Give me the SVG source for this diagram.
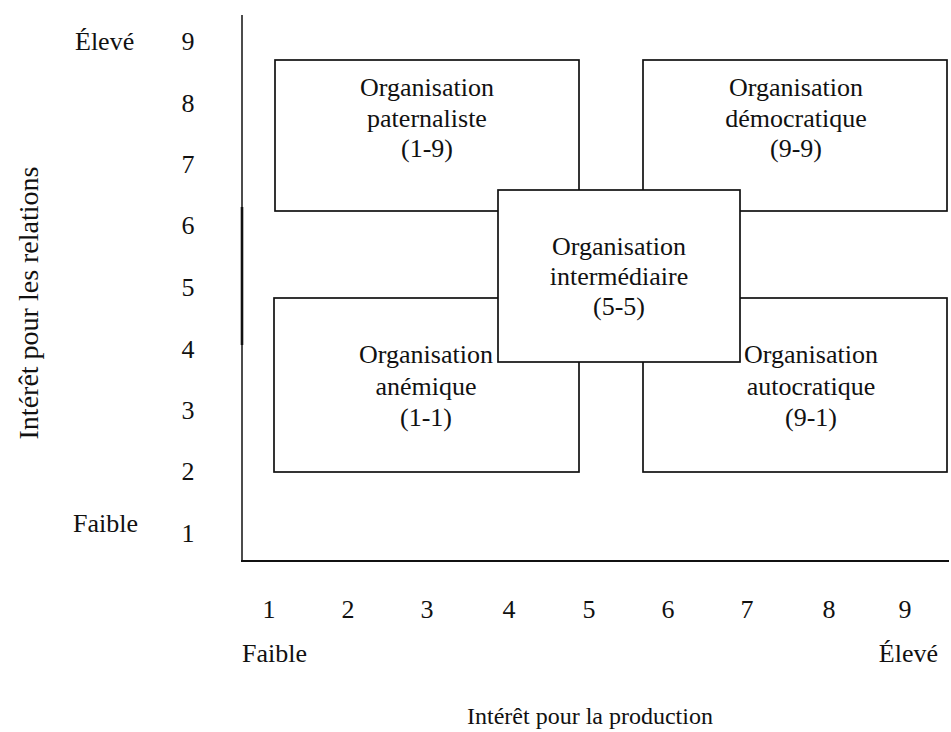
<svg xmlns="http://www.w3.org/2000/svg" width="951" height="732" viewBox="0 0 951 732">
<style>
text{font-family:"Liberation Serif","Times New Roman",serif;font-size:26px;fill:#111}
.c{text-anchor:middle}
.box rect{fill:#fff;stroke:#111;stroke-width:1.7}
.ax{stroke:#111;fill:none}
</style>
<rect width="951" height="732" fill="#fff"/>
<g id="axes">
<line class="ax" x1="242" y1="15" x2="242" y2="562" stroke-width="1.5"/>
<line class="ax" x1="242" y1="207" x2="242" y2="345" stroke-width="2.6"/>
<line class="ax" x1="241" y1="561" x2="949" y2="561" stroke-width="2"/>
</g>
<g id="y-labels">
<text x="75" y="50">Élevé</text>
<text x="73" y="532">Faible</text>
<text class="c" x="188" y="50">9</text>
<text class="c" x="188" y="112">8</text>
<text class="c" x="188" y="173">7</text>
<text class="c" x="188" y="234">6</text>
<text class="c" x="188" y="296">5</text>
<text class="c" x="188" y="358">4</text>
<text class="c" x="188" y="419">3</text>
<text class="c" x="188" y="480">2</text>
<text class="c" x="188" y="542">1</text>
<text class="c" style="font-size:28px" transform="translate(38,303) rotate(-90)">Intérêt pour les relations</text>
</g>
<g id="x-labels">
<text class="c" x="269" y="618">1</text>
<text class="c" x="348" y="618">2</text>
<text class="c" x="427" y="618">3</text>
<text class="c" x="509" y="618">4</text>
<text class="c" x="589" y="618">5</text>
<text class="c" x="668" y="618">6</text>
<text class="c" x="747" y="618">7</text>
<text class="c" x="829" y="618">8</text>
<text class="c" x="905" y="618">9</text>
<text x="242" y="662">Faible</text>
<text x="938" y="662" text-anchor="end">Élevé</text>
<text class="c" style="font-size:24px" x="590" y="724">Intérêt pour la production</text>
</g>
<g id="node-1-9" class="box">
<rect x="275" y="60" width="304" height="151"/>
<text class="c" x="427" y="96">Organisation</text>
<text class="c" x="427" y="127">paternaliste</text>
<text class="c" x="427" y="157">(1-9)</text>
</g>
<g id="node-9-9" class="box">
<rect x="643" y="60" width="304" height="151"/>
<text class="c" x="796" y="96">Organisation</text>
<text class="c" x="796" y="127">démocratique</text>
<text class="c" x="796" y="157">(9-9)</text>
</g>
<g id="node-1-1" class="box">
<rect x="274" y="298" width="305" height="174"/>
<text class="c" x="426" y="363">Organisation</text>
<text class="c" x="426" y="395">anémique</text>
<text class="c" x="426" y="426">(1-1)</text>
</g>
<g id="node-9-1" class="box">
<rect x="643" y="298" width="304" height="174"/>
<text class="c" x="811" y="363">Organisation</text>
<text class="c" x="811" y="395">autocratique</text>
<text class="c" x="811" y="426">(9-1)</text>
</g>
<g id="node-5-5" class="box">
<rect x="498" y="190" width="242" height="172"/>
<text class="c" x="619" y="255">Organisation</text>
<text class="c" x="619" y="285">intermédiaire</text>
<text class="c" x="619" y="315">(5-5)</text>
</g>
<g id="connectors"></g>
</svg>
